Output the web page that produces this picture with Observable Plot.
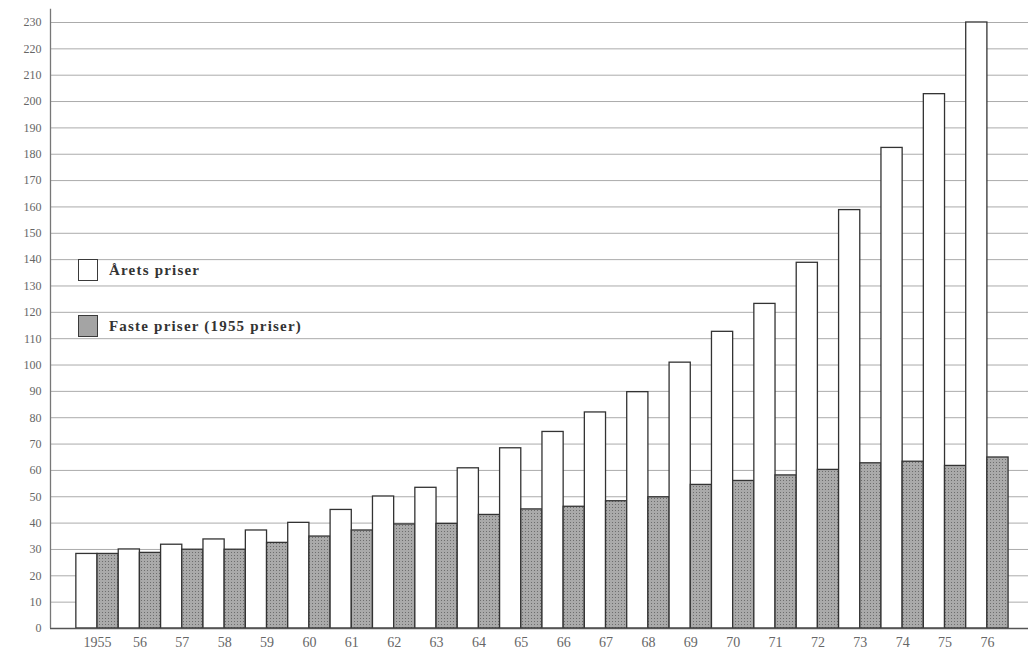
<!DOCTYPE html>
<html>
<head>
<meta charset="utf-8">
<script src="https://cdn.jsdelivr.net/npm/d3@7"></script>
<script src="https://cdn.jsdelivr.net/npm/@observablehq/plot@0.6"></script>
<style>
  html, body { margin: 0; padding: 0; background: #fff; }
  #wrap { position: relative; width: 1028px; height: 655px; font-family: "Liberation Serif", "DejaVu Serif", serif; }
  .legend-item { position: absolute; left: 78px; display: flex; align-items: center; }
  .swatch { width: 18px; height: 20px; border: 1.5px solid #3a3a3a; box-sizing: content-box; }
  .label { margin-left: 11px; font-weight: bold; font-size: 15px; letter-spacing: 1.2px; color: #333; }
</style>
</head>
<body>
<div id="wrap"></div>
<script>
const years = [1955, 1956, 1957, 1958, 1959, 1960, 1961, 1962, 1963, 1964, 1965, 1966, 1967, 1968, 1969, 1970, 1971, 1972, 1973, 1974, 1975, 1976];
const yearLabels = ["1955", "56", "57", "58", "59", "60", "61", "62", "63", "64", "65", "66", "67", "68", "69", "70", "71", "72", "73", "74", "75", "76"];
const aretsPriser = [28.3, 30.0, 31.8, 33.8, 37.2, 40.1, 45.0, 50.1, 53.4, 60.8, 68.4, 74.6, 82.0, 89.7, 100.9, 112.6, 123.2, 138.8, 158.8, 182.4, 202.8, 230.0];
const fastePriser = [28.3, 28.7, 29.9, 29.9, 32.5, 34.9, 37.2, 39.5, 39.7, 43.1, 45.2, 46.2, 48.3, 49.8, 54.5, 56.0, 58.1, 60.2, 62.7, 63.3, 61.7, 64.9];
const yTicks = d3.range(0, 231, 10);
const seriesNames = ["Årets priser", "Faste priser (1955 priser)"];
const seriesColors = ["#ffffff", "url(#halftone)"];
const legendColors = ["#ffffff", "#a4a4a4"];

const xDomain = [1953.89, 1976.97];
const yDomain = [0, 230];

const rows = [];
years.forEach((yr, i) => {
  rows.push({year: yr, series: seriesNames[0], value: aretsPriser[i], x1: yr - 0.5, x2: yr});
  rows.push({year: yr, series: seriesNames[1], value: fastePriser[i], x1: yr, x2: yr + 0.5});
});

const chart = Plot.plot({
  width: 1028,
  height: 655,
  marginLeft: 50,
  marginRight: 0,
  marginTop: 22,
  marginBottom: 27,
  style: {fontFamily: "'Liberation Serif', 'DejaVu Serif', serif", background: "#fff", overflow: "visible"},
  x: {type: "linear", domain: xDomain},
  y: {domain: yDomain},
  color: {domain: seriesNames, range: seriesColors},
  marks: [
    Plot.ruleY(yTicks, {stroke: "#ababab", strokeWidth: 1}),
    Plot.rect(rows, {x1: "x1", x2: "x2", y1: 0, y2: "value", fill: "series", stroke: "#333", strokeWidth: 1.3}),
    Plot.ruleY([0], {stroke: "#555", strokeWidth: 1.5}),
    Plot.ruleX([xDomain[0]], {y1: 0, y2: 235, stroke: "#777", strokeWidth: 1.3}),
    Plot.axisY(yTicks, {tickSize: 0, tickPadding: 9, fontSize: 12, fill: "#666", label: null}),
    Plot.axisX(years, {tickSize: 0, tickPadding: 9, fontSize: 14, fill: "#666", label: null,
      tickFormat: d => yearLabels[years.indexOf(d)]})
  ]
});

// halftone pattern for the constant-price bars
const ns = "http://www.w3.org/2000/svg";
const defs = document.createElementNS(ns, "defs");
const pat = document.createElementNS(ns, "pattern");
pat.setAttribute("id", "halftone");
pat.setAttribute("width", "3");
pat.setAttribute("height", "3");
pat.setAttribute("patternUnits", "userSpaceOnUse");
const bg = document.createElementNS(ns, "rect");
bg.setAttribute("width", "3"); bg.setAttribute("height", "3"); bg.setAttribute("fill", "#aaaaaa");
const dot = document.createElementNS(ns, "rect");
dot.setAttribute("width", "1"); dot.setAttribute("height", "1"); dot.setAttribute("fill", "#6e6e6e");
pat.appendChild(bg); pat.appendChild(dot);
defs.appendChild(pat);
chart.insertBefore(defs, chart.firstChild);

const wrap = document.getElementById("wrap");
wrap.appendChild(chart);

const legendTops = [259, 315];
seriesNames.forEach((name, i) => {
  const item = document.createElement("div");
  item.className = "legend-item";
  item.style.top = legendTops[i] + "px";
  const sw = document.createElement("div");
  sw.className = "swatch";
  sw.style.background = legendColors[i];
  const lb = document.createElement("span");
  lb.className = "label";
  lb.textContent = name;
  item.appendChild(sw);
  item.appendChild(lb);
  wrap.appendChild(item);
});
</script>
</body>
</html>
